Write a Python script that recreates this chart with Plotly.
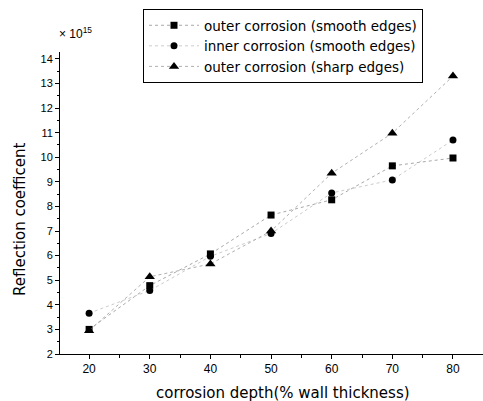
import plotly.graph_objects as go

depth = [20, 30, 40, 50, 60, 70, 80]
outer_smooth = [3.0, 4.78, 6.07, 7.65, 8.27, 9.65, 9.97]
inner_smooth = [3.66, 4.58, 5.97, 6.9, 8.55, 9.08, 10.7]
outer_sharp = [2.95, 5.14, 5.66, 7.0, 9.35, 10.98, 13.3]
names = ["outer corrosion (smooth edges)", "inner corrosion (smooth edges)", "outer corrosion (sharp edges)"]
x_ticks = [20, 30, 40, 50, 60, 70, 80]
y_ticks = [2, 3, 4, 5, 6, 7, 8, 9, 10, 11, 12, 13, 14]

FONT = "Liberation Sans, Arial, sans-serif"
WIDE = "DejaVu Sans, Verdana, sans-serif"

fig = go.Figure()
fig.add_trace(go.Scatter(x=depth, y=outer_smooth, name=names[0], mode="lines+markers",
                         line=dict(color="#a8a8a8", width=1, dash="dot"),
                         marker=dict(symbol="square", size=7, color="black")))
fig.add_trace(go.Scatter(x=depth, y=inner_smooth, name=names[1], mode="lines+markers",
                         line=dict(color="#cccccc", width=1, dash="dot"),
                         marker=dict(symbol="circle", size=7, color="black")))
fig.add_trace(go.Scatter(x=depth, y=outer_sharp, name=names[2], mode="lines+markers",
                         line=dict(color="#b0b0b0", width=1, dash="dot"),
                         marker=dict(symbol="triangle-up", size=9, color="black")))

fig.update_layout(
    width=483, height=401,
    margin=dict(l=60, r=0, t=52, b=47),
    paper_bgcolor="white", plot_bgcolor="white",
    font=dict(family=FONT, color="black", size=12),
    showlegend=True,
    legend=dict(x=(143 - 60) / 423, y=(354 - 9) / 302, xanchor="left", yanchor="top",
                bgcolor="white", bordercolor="black", borderwidth=1,
                font=dict(size=13.5, family=WIDE), itemwidth=50,
                tracegroupgap=0, itemsizing="trace"),
    xaxis=dict(range=[15.2, 84.95], tickvals=x_ticks, showgrid=False, zeroline=False,
               showline=True, linecolor="black", linewidth=1,
               ticks="outside", ticklen=4, tickcolor="black",
               tickfont=dict(size=12),
               minor=dict(dtick=5, tick0=0, ticks="outside", ticklen=3, tickcolor="black")),
    yaxis=dict(range=[2, 14.28], tickvals=y_ticks, showgrid=False, zeroline=False,
               showline=True, linecolor="black", linewidth=1,
               ticks="outside", ticklen=4, tickcolor="black",
               tickfont=dict(size=11),
               minor=dict(dtick=0.5, tick0=0, ticks="outside", ticklen=2, tickcolor="black")),
    annotations=[
        dict(text="corrosion depth(% wall thickness)", xref="paper", yref="paper",
             x=(283 - 60) / 423, y=-(393 - 354) / 302, xanchor="center", yanchor="middle",
             showarrow=False, font=dict(size=15, family=WIDE)),
        dict(text="Reflection coefficent", xref="paper", yref="paper",
             x=-(60 - 20) / 423, y=(354 - 219) / 302, xanchor="center", yanchor="middle",
             textangle=-90, showarrow=False, font=dict(size=15, family=WIDE)),
        dict(text="× 10<sup>15</sup>", xref="paper", yref="paper",
             x=-(60 - 57) / 423, y=(354 - 33) / 302, xanchor="left", yanchor="middle",
             showarrow=False, font=dict(size=12, family=FONT)),
    ],
)

fig.write_html("out.html")
